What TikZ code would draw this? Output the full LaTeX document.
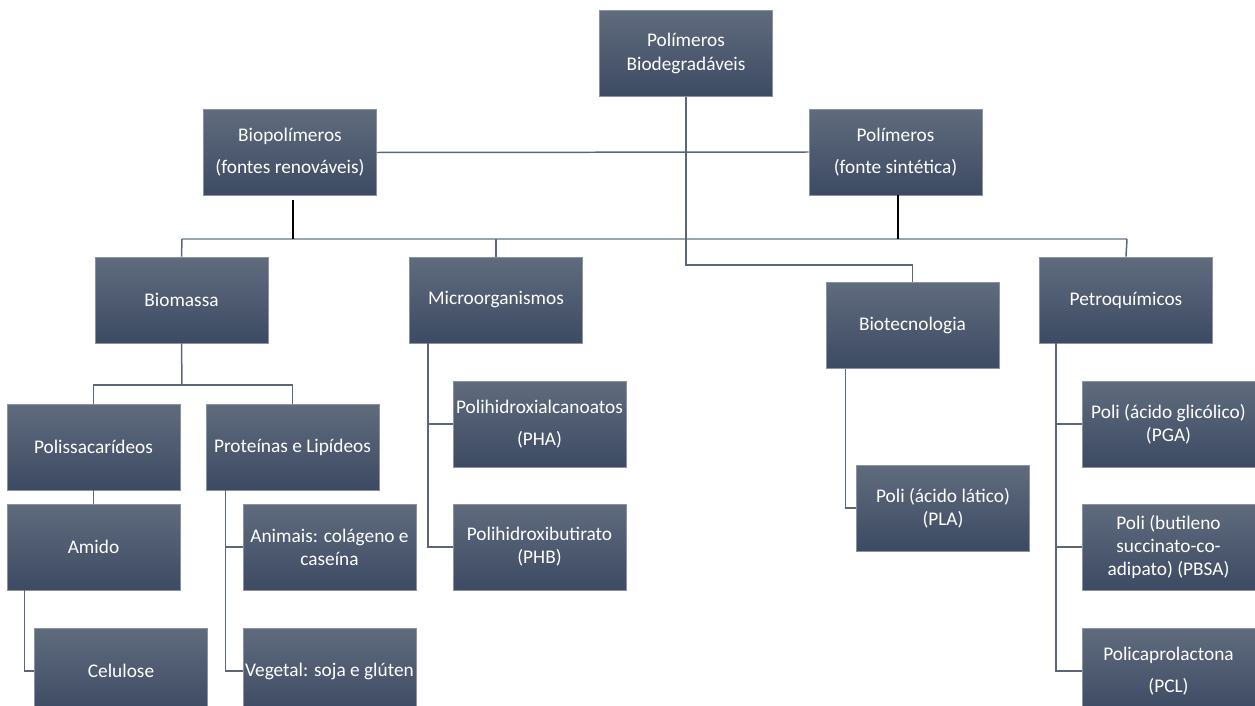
\documentclass[tikz,border=0pt]{standalone}
\usepackage{fontspec}
\setmainfont{Carlito}
\usetikzlibrary{calc}
\definecolor{boxtop}{HTML}{606B7D}
\definecolor{boxbot}{HTML}{3C4A63}
\definecolor{boxedge}{HTML}{8A93A2}
\definecolor{linkcol}{HTML}{5B6779}
\definecolor{buscol}{HTML}{9BA4B1}
\tikzset{
  box/.style={draw=boxedge,line width=0.4pt,top color=boxtop,bottom color=boxbot,
    text=white,align=center,inner sep=1pt,
    minimum width=3.46cm,minimum height=1.72cm,
    font=\fontsize{11}{13.2}\selectfont},
  link/.style={draw=linkcol,line width=0.85pt},
  bus/.style={draw=buscol,line width=1.3pt},
  stem/.style={draw=black,line width=0.6pt}
}
\begin{document}
\begin{tikzpicture}[x=0.02cm,y=-0.02cm]
\useasboundingbox (0,0) rectangle (1255,706);
% level 0 and 1
\node[box] (top) at (686,53.5) {Polímeros\\Biodegradáveis};
\node[box] (bio) at (290,152.5) {Biopolímeros\\[5pt](fontes renováveis)};
\node[box] (sint) at (895.5,152) {Polímeros\\[5pt](fonte sintética)};
% level 2
\node[box] (biom) at (181.5,300) {Biomassa};
\node[box] (micro) at (496,300) {Microorganismos};
\node[box] (biotec) at (912.5,325.5) {Biotecnologia};
\node[box] (petro) at (1126,300) {Petroquímicos};
% biomassa
\node[box] (polis) at (93.5,447) {Polissacarídeos};
\node[box] (prot) at (292.5,447) {Proteínas e Lipídeos};
\node[box] (amido) at (93.5,547) {Amido};
\node[box] (celu) at (121,671) {Celulose};
\node[box] (anim) at (329.5,547) {Animais: colágeno e\\caseína};
\node[box] (veget) at (329.5,671) {Vegetal: soja e glúten};
% microorganismos
\node[box] (pha) at (539.5,424) {Polihidroxialcanoatos\\[5pt](PHA)};
\node[box] (phb) at (539.5,547) {Polihidroxibutirato\\(PHB)};
% biotecnologia
\node[box] (pla) at (943,508) {Poli (ácido lático)\\(PLA)};
% petroquimicos
\node[box] (pga) at (1168.5,424) {Poli (ácido glicólico)\\(PGA)};
\node[box] (pbsa) at (1168.5,547) {Poli (butileno\\succinato-co-\\adipato) (PBSA)};
\node[box] (pcl) at (1168.5,671) {Policaprolactona\\[5pt](PCL)};
% junctions
\coordinate (j1) at (686,265);
\coordinate (busL) at (182,239);
\coordinate (busR) at (1127,239);
\coordinate (j2) at (182,385);
\coordinate (s1) at (293,200);
\coordinate (s1b) at (293,239);
\coordinate (s2) at (898,195);
\coordinate (s2b) at (898,239);
% upper links
\draw[bus] (busL) -- (busR);
\draw[link] (bio.east) -- (sint.west);
\draw[link] (top.south) -- (j1) -| (biotec.north);
\draw[stem] (s1) -- (s1b);
\draw[stem] (s2) -- (s2b);
\draw[link] (busL) -- (biom.north);
\draw[link] (micro.north |- busL) -- (micro.north);
\draw[link] (busR) -- (petro.north);
% biomassa links
\draw[link] (biom.south) -- (j2);
\draw[link] (polis.north) |- (j2) -| (prot.north);
\draw[link] (polis.south) -- (amido.north);
\draw[link] ($(amido.south west)+(18,0)$) |- (celu.west);
\draw[link] ($(prot.south west)+(20,0)$) |- (veget.west);
\draw[link] ($(prot.south west)+(20,0)$) |- (anim.west);
% microorganismos links
\draw[link] ($(micro.south west)+(19,0)$) |- (phb.west);
\draw[link] ($(micro.south west)+(19,0)$) |- (pha.west);
% biotecnologia link
\draw[link] ($(biotec.south west)+(20,0)$) |- (pla.west);
% petroquimicos links
\draw[link] ($(petro.south west)+(17,0)$) |- (pcl.west);
\draw[link] ($(petro.south west)+(17,0)$) |- (pbsa.west);
\draw[link] ($(petro.south west)+(17,0)$) |- (pga.west);
\end{tikzpicture}
\end{document}
